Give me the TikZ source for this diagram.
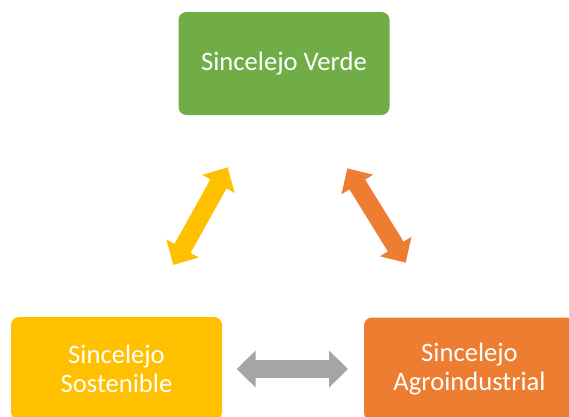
\documentclass[tikz,border=0pt]{standalone}
\usepackage{fontspec}
\setmainfont{Carlito}
\usetikzlibrary{arrows.meta}
\definecolor{cgreen}{HTML}{70AD47}
\definecolor{cyellow}{HTML}{FFC000}
\definecolor{corange}{HTML}{ED7D31}
\definecolor{cgray}{HTML}{A5A5A5}
\tikzset{
  box/.style={rounded corners=8pt, minimum width=211pt, minimum height=103pt, inner sep=0pt,
    text=white, align=center, font=\fontsize{26.6}{29}\selectfont},
  bigarrow/.style={line width=18.5pt, {Triangle[length=19pt,width=36pt]}-{Triangle[length=19pt,width=36pt]}}
}
\begin{document}
\begin{tikzpicture}[x=1pt,y=-1pt]
\useasboundingbox (0,0) rectangle (569,416);
\clip (0,0) rectangle (569,416);
\node[box, fill=cgreen] (verde) at (284,63.5) {Sincelejo Verde};
\node[box, fill=cyellow] (sost) at (116.5,368.5) {Sincelejo\\Sostenible};
\node[box, fill=corange] (agro) at (469.5,369) {Sincelejo\\Agroindustrial};
\coordinate (ya) at (173.3,265);
\coordinate (yb) at (227.7,167.3);
\coordinate (oa) at (347.3,168.3);
\coordinate (ob) at (405.7,262.7);
\coordinate (ga) at (236.7,369);
\coordinate (gb) at (348,369);
\draw[bigarrow, draw=cyellow, fill=cyellow] (ya) -- (yb);
\draw[bigarrow, draw=corange, fill=corange] (oa) -- (ob);
\draw[bigarrow, draw=cgray, fill=cgray] (ga) -- (gb);
\end{tikzpicture}
\end{document}
